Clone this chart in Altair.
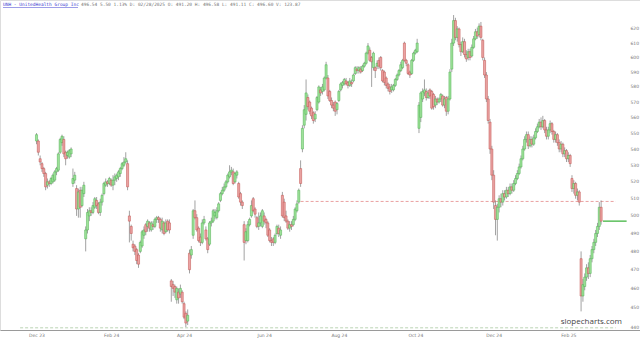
import altair as alt
import pandas as pd

opens = [545,545,534,531,528,525,518,520,519,520,
         521,526,527,538,544,546,538,536,535,537,
         519,521,516,504,515,506,513,487,492,500,
         503,502,505,509,507,502,508,513,518,520,
         519,521,518,521,522,523,525,528,530,532,
         531,500,494,484,483,481,478,480,483,489,
         495,494,496,492,495,494,498,499,498,492,
         496,491,497,496,464,462,461,454,458,457,
         458,452,447,443,479,478,489,503,499,493,
         488,485,496,492,487,484,496,497,500,499,
         503,509,513,515,517,520,523,526,526,520,
         524,519,513,508,495,486,486,495,500,510,
         504,499,494,496,494,500,498,496,492,486,
         487,485,490,493,489,512,508,500,497,493,
         495,495,498,503,508,528,540,555,562,573,
         570,566,563,559,565,570,578,577,578,586,
         586,577,571,568,570,565,571,578,581,582,
         584,583,581,583,584,589,592,591,592,591,
         594,596,603,605,600,593,593,594,598,600,
         591,590,586,582,580,578,578,581,585,588,
         591,593,610,598,595,590,589,598,603,604,
         553,560,572,576,577,573,578,577,575,568,
         572,570,572,574,568,573,564,572,592,610,
         626,614,620,609,604,611,602,600,604,601,
         607,613,618,616,622,612,598,588,572,557,
         540,524,506,498,505,510,508,513,511,515,
         513,517,515,519,522,525,529,534,540,546,
         549,542,546,543,547,551,554,557,554,558,
         552,548,552,556,551,546,549,544,540,543,
         537,539,534,536,522,516,519,512,514,476,
         456,461,466,471,468,476,481,485,490,494,505]

highs = [550,546,536,532,529,526,522,521,523,525,
         527,529,538,547,549,548,539,539,540,541,
         528,526,518,516,517,517,520,494,504,505,
         505,508,511,511,508,510,513,520,522,521,
         523,522,524,525,525,527,529,532,535,538,
         533,503,495,486,484,482,479,486,492,494,
         496,498,497,497,497,499,500,500,499,499,
         497,498,498,498,465,464,462,461,460,462,
         459,453,448,449,481,483,504,509,501,494,
         490,498,500,494,488,497,499,504,504,505,
         508,514,517,519,521,525,530,529,528,526,
         527,520,514,509,497,493,497,499,509,511,
         505,500,502,502,504,502,499,497,493,488,
         488,490,495,495,494,514,510,503,498,497,
         497,500,505,509,516,533,555,568,585,575,
         571,567,564,564,574,581,580,582,587,597,
         588,578,573,570,571,570,578,583,584,586,
         586,584,586,585,589,594,594,594,594,595,
         597,604,610,607,601,604,594,598,600,601,
         592,591,587,583,582,582,582,586,589,592,
         597,599,611,599,596,591,599,604,606,613,
         570,577,579,585,579,578,579,578,576,574,
         573,573,576,575,574,574,574,592,613,630,
         628,622,621,611,614,613,605,606,606,609,
         615,620,621,624,625,613,600,590,574,559,
         542,527,509,507,512,513,515,515,517,517,
         519,519,521,524,527,531,536,542,548,551,
         551,548,548,549,553,556,559,560,561,559,
         554,554,558,557,552,551,550,546,545,544,
         541,540,538,537,524,521,520,516,515,480,
         465,468,473,474,478,483,487,492,496,508,509]

lows = [543,536,530,526,523,515,516,517,518,519,
        520,524,526,537,542,535,530,534,534,535,
        517,519,500,499,499,505,511,480,490,497,
        500,501,504,504,501,500,506,512,517,517,
        518,517,515,518,520,521,523,527,529,531,
        515,485,486,480,478,473,471,479,482,487,
        489,491,491,491,492,493,496,496,491,490,
        489,490,491,490,453,456,455,452,452,455,
        452,444,440,441,468,476,487,498,491,485,
        483,484,495,486,479,483,494,496,498,498,
        502,508,512,514,516,519,522,524,518,519,
        522,510,506,504,475,484,485,494,499,502,
        499,493,492,494,493,495,493,488,485,483,
        483,484,489,488,487,499,497,496,492,491,
        492,494,497,502,507,517,538,553,558,565,
        562,559,556,557,564,569,574,575,577,585,
        572,570,566,564,561,562,570,577,579,581,
        581,579,580,580,583,588,589,589,589,590,
        593,595,602,597,580,591,586,592,592,591,
        583,581,579,577,575,576,577,580,584,587,
        590,592,597,594,588,586,588,597,602,603,
        550,557,570,574,571,572,572,565,565,566,
        568,569,570,567,566,561,562,571,590,608,
        612,611,607,601,603,600,597,598,598,600,
        606,612,613,614,612,598,586,570,556,537,
        521,504,489,486,502,505,506,509,510,511,
        512,513,514,518,521,524,528,533,539,544,
        540,541,541,542,546,550,553,552,553,550,
        546,546,550,549,544,544,542,538,538,535,
        535,532,532,529,514,513,510,509,506,448,
        453,459,464,465,466,474,479,483,488,492,495]

closes = [549,538,532,528,525,517,520,519,522,524,
          526,528,537,546,548,537,534,538,539,540,
          522,524,504,514,505,515,518,492,502,503,
          502,506,510,506,502,508,512,519,520,519,
          522,518,521,523,524,526,528,531,532,534,
          517,497,490,482,480,475,473,485,491,492,
          491,497,493,496,494,498,499,498,493,497,
          490,496,492,492,461,460,458,460,455,460,
          453,445,442,446,470,481,503,499,492,486,
          485,496,498,487,481,496,497,503,502,503,
          507,513,515,517,520,524,526,527,519,525,
          526,511,508,506,485,491,495,498,506,503,
          501,494,496,500,503,497,496,489,486,485,
          485,489,494,490,492,500,499,497,493,495,
          494,498,504,507,515,519,553,565,576,567,
          564,561,558,562,573,580,576,580,586,595,
          574,571,568,566,564,569,577,582,583,585,
          582,581,584,582,588,593,591,593,590,594,
          596,603,608,598,597,603,591,596,594,593,
          584,583,581,579,577,580,581,585,588,591,
          595,598,598,596,589,588,598,603,605,610,
          568,576,577,578,573,576,574,566,567,572,
          570,572,575,568,572,564,572,590,610,626,
          614,620,609,604,611,602,599,604,600,607,
          613,618,615,622,614,600,588,572,558,540,
          524,508,498,505,510,508,513,511,515,513,
          517,515,519,522,525,529,534,540,546,549,
          542,546,543,547,551,554,557,554,558,552,
          548,552,556,551,546,549,544,540,543,537,
          539,534,536,531,516,519,512,514,508,456,
          462,466,471,468,476,481,485,490,494,505,497]

month_ticks = [0, 41, 81, 125, 166, 208, 251, 292]
month_labels = ["Dec 23", "Feb 24", "Apr 24", "Jun 24", "Aug 24", "Oct 24", "Dec 24", "Feb 25"]
price_ticks = [440, 450, 460, 470, 480, 490, 500, 510, 520, 530,
               540, 550, 560, 570, 580, 590, 600, 610, 620]

level_values = [508.4, 439.6]
level_starts = [145, -9]
level_ends = [318, 318]
last_price = [497]
last_start = [311]
last_end = [324]

header_name = "UNH - UnitedHealth Group Inc"
header_stats = "496.54  5.50  1.13%  D: 02/28/2025  O: 491.20  H: 496.58  L: 491.11  C: 496.60  V: 123.87"

df = pd.DataFrame({"i": list(range(len(opens))), "o": opens, "h": highs, "l": lows, "c": closes})

xs = alt.Scale(domain=[-17.3, 328.6], nice=False, zero=False)
ys = alt.Scale(type="log", domain=[438.5, 641], nice=False, zero=False)

lbl_expr = "[" + ",".join("'%s'" % s for s in month_labels) + "][indexof([" + ",".join(str(v) for v in month_ticks) + "], datum.value)]"

x_axis = alt.Axis(values=month_ticks, labelExpr=lbl_expr, grid=False, ticks=False,
                  domainColor="#9a9a9a", domainWidth=1, labelFontSize=4.5, labelColor="#777",
                  labelPadding=2, title=None, labelFont="DejaVu Sans")
y_axis = alt.Axis(orient="right", offset=-12, values=price_ticks, grid=False, ticks=False,
                  domain=False, labelFontSize=4.5, labelColor="#777", labelPadding=2,
                  title=None, labelFont="DejaVu Sans")

base = alt.Chart(df)

wicks = base.mark_rule(strokeWidth=0.7, color="#7a7a7a").encode(
    x=alt.X("i:Q", scale=xs, axis=x_axis),
    y=alt.Y("l:Q", scale=ys, axis=y_axis),
    y2="h:Q",
)

bodies = base.mark_bar(size=2.1, strokeWidth=0.5).encode(
    x=alt.X("i:Q", scale=xs),
    y=alt.Y("o:Q", scale=ys),
    y2="c:Q",
    fill=alt.condition("datum.c >= datum.o", alt.value("#9fe39a"), alt.value("#eba3a3")),
    stroke=alt.condition("datum.c >= datum.o", alt.value("#4caf50"), alt.value("#c0504d")),
)

lv = pd.DataFrame({"v": level_values, "s": level_starts, "e": level_ends,
                   "kind": ["red", "green"]})
red_line = alt.Chart(lv[lv.kind == "red"]).mark_rule(color="#e48a8a", strokeWidth=0.8, strokeDash=[3, 2]).encode(
    x=alt.X("s:Q", scale=xs), x2="e:Q", y=alt.Y("v:Q", scale=ys))
low_line = alt.Chart(lv[lv.kind == "green"]).mark_rule(color="#a8c8a0", strokeWidth=0.8, strokeDash=[3, 2]).encode(
    x=alt.X("s:Q", scale=xs), x2="e:Q", y=alt.Y("v:Q", scale=ys))

lp = pd.DataFrame({"v": last_price, "s": last_start, "e": last_end})
last_line = alt.Chart(lp).mark_rule(color="#5cbf5c", strokeWidth=1.5).encode(
    x=alt.X("s:Q", scale=xs), x2="e:Q", y=alt.Y("v:Q", scale=ys))

hd = pd.DataFrame({"name": [header_name], "stats": [header_stats]})
name_txt = alt.Chart(hd).mark_text(align="left", baseline="middle", font="DejaVu Sans Mono",
                                    fontSize=4.5, color="#3a3ad0").encode(
    x=alt.value(3), y=alt.value(5), text="name:N")
name_ul = alt.Chart(hd).mark_rule(color="#3a3ad0", strokeWidth=0.5).encode(
    x=alt.value(3), x2=alt.value(78), y=alt.value(7.5))
stats_txt = alt.Chart(hd).mark_text(align="left", baseline="middle", font="DejaVu Sans Mono",
                                     fontSize=4.5, color="#777").encode(
    x=alt.value(81), y=alt.value(5), text="stats:N")

wm = pd.DataFrame({"t": ["slopecharts.com"]})
watermark = alt.Chart(wm).mark_text(align="right", baseline="middle", font="Open Sans",
                                     fontSize=8, color="#444").encode(
    x=alt.value(622), y=alt.value(322), text="t:N")

chart = alt.layer(
    low_line, red_line, wicks, bodies, last_line, name_txt, name_ul, stats_txt, watermark
).properties(
    width=640, height=330,
    autosize=alt.AutoSizeParams(type="none"),
    padding={"left": 0, "top": 0, "right": 0, "bottom": 11},
).configure_view(stroke=None).configure(background="white")

chart.save("out.html", embed_options={"renderer": "svg", "actions": False})
